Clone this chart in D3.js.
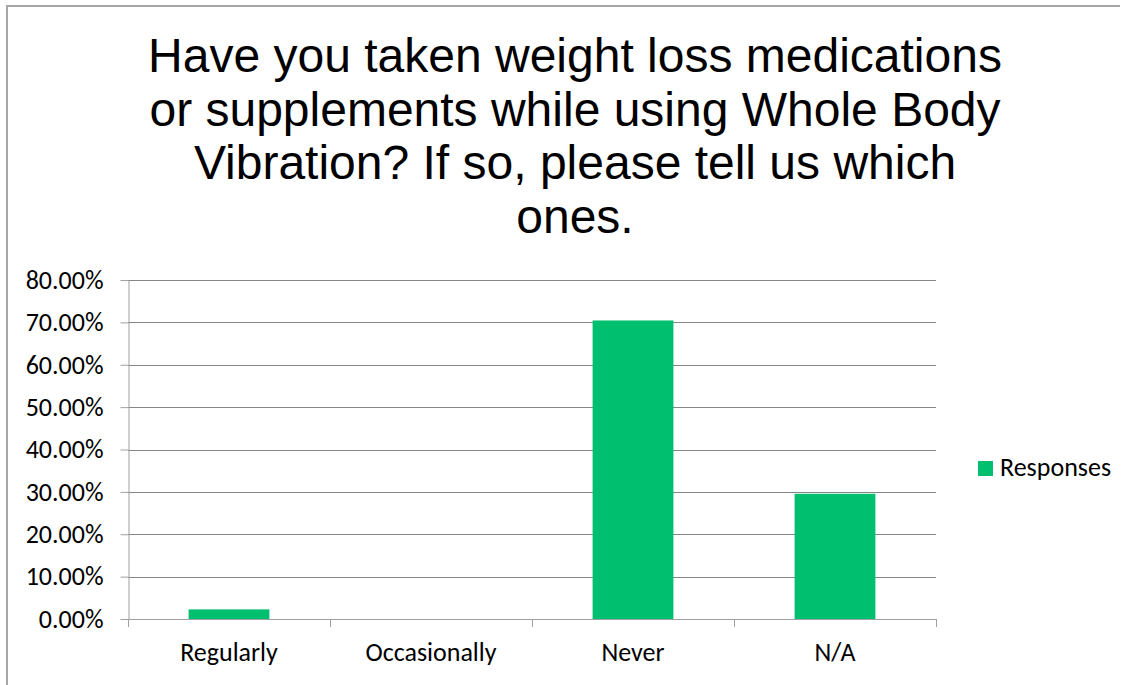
<!DOCTYPE html>
<html>
<head>
<meta charset="utf-8">
<script src="https://cdn.jsdelivr.net/npm/d3@7"></script>
<style>
  html, body { margin: 0; padding: 0; background: #ffffff; }
  svg { display: block; }
</style>
</head>
<body>
<svg id="chart" width="1129" height="685"></svg>
<script>
const titleLines = [
  "Have you taken weight loss medications",
  "or supplements while using Whole Body",
  "Vibration? If so, please tell us which",
  "ones."
];
const categories = ["Regularly", "Occasionally", "Never", "N/A"];
const values = [2.27, 0, 70.45, 29.55];
const yTicks = [0, 10, 20, 30, 40, 50, 60, 70, 80];
const seriesName = "Responses";

const W = 1129, H = 685;
const plot = { left: 128, right: 936, top: 280, bottom: 619 };
const barColor = "#00bf6f";
const gridColor = "#868686";
const axisColor = "#a0a0a0";
const labelFont = "Carlito, Lato, sans-serif";
const labelSize = 26;

const svg = d3.select("#chart");
svg.append("rect").attr("width", W).attr("height", H).attr("fill", "#fff");

// frame (left + top edges visible)
svg.append("path")
  .attr("d", `M7,${H} V6 H1120`)
  .attr("fill", "none")
  .attr("stroke", "#a6a6a6")
  .attr("stroke-width", 2);

// title
const title = svg.append("text")
  .attr("text-anchor", "middle")
  .attr("font-family", "'Liberation Sans', Arial, sans-serif")
  .attr("font-size", 48)
  .attr("fill", "#000");
titleLines.forEach((t, i) => {
  title.append("tspan").attr("x", 575).attr("y", 72 + i * 53.7).text(t);
});

const x = d3.scaleBand().domain(categories)
  .range([plot.left, plot.right])
  .paddingInner(0.6).paddingOuter(0.3);
const y = d3.scaleLinear().domain([0, 80]).range([plot.bottom, plot.top]);

// gridlines
svg.append("g").selectAll("line")
  .data(yTicks.filter(d => d > 0))
  .join("line")
  .attr("x1", plot.left).attr("x2", plot.right)
  .attr("y1", d => Math.round(y(d)) + 0.5).attr("y2", d => Math.round(y(d)) + 0.5)
  .attr("stroke", gridColor).attr("stroke-width", 1);

// bars
svg.append("g").selectAll("rect")
  .data(categories.map((c, i) => ({ c, v: values[i] })))
  .join("rect")
  .attr("x", d => x(d.c))
  .attr("width", x.bandwidth())
  .attr("y", d => y(d.v))
  .attr("height", d => y(0) - y(d.v))
  .attr("fill", barColor);

// y axis
const yAxis = svg.append("g")
  .attr("transform", `translate(${plot.left + 0.5},0)`)
  .call(d3.axisLeft(y).tickValues(yTicks).tickSize(8).tickSizeOuter(0).tickPadding(17)
    .tickFormat(d => d.toFixed(2) + "%"));
yAxis.select(".domain").attr("stroke", axisColor);
yAxis.selectAll(".tick line").attr("stroke", axisColor);
yAxis.selectAll(".tick text")
  .attr("font-family", labelFont).attr("font-size", labelSize).attr("fill", "#000");

// x axis baseline
svg.append("line")
  .attr("x1", plot.left).attr("x2", plot.right)
  .attr("y1", Math.round(y(0)) + 0.5).attr("y2", Math.round(y(0)) + 0.5)
  .attr("stroke", axisColor);

// category boundary ticks
const boundaries = [plot.left].concat(categories.map(c => x(c) + x.bandwidth() / 2 + x.step() / 2));
svg.append("g").selectAll("line")
  .data(boundaries)
  .join("line")
  .attr("x1", d => Math.round(d) + 0.5).attr("x2", d => Math.round(d) + 0.5)
  .attr("y1", y(0)).attr("y2", y(0) + 8)
  .attr("stroke", axisColor);

// category labels
svg.append("g").selectAll("text")
  .data(categories)
  .join("text")
  .attr("x", d => x(d) + x.bandwidth() / 2)
  .attr("y", 661)
  .attr("text-anchor", "middle")
  .attr("font-family", labelFont).attr("font-size", labelSize).attr("fill", "#000")
  .text(d => d);

// legend
const lg = svg.append("g");
lg.append("rect").attr("x", 978).attr("y", 461).attr("width", 15).attr("height", 15).attr("fill", barColor);
lg.append("text").attr("x", 1000).attr("y", 476)
  .attr("font-family", labelFont).attr("font-size", labelSize).attr("fill", "#000")
  .text(seriesName);
</script>
</body>
</html>
